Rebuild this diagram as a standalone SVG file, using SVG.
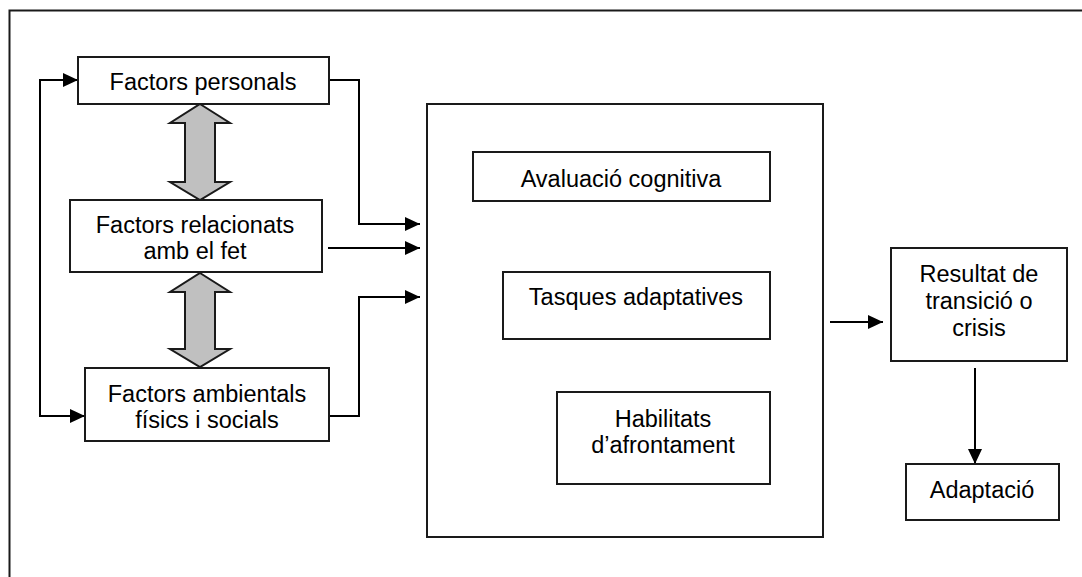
<svg xmlns="http://www.w3.org/2000/svg" width="1082" height="577" viewBox="0 0 1082 577">
  <style>
    .box { fill: #ffffff; stroke: #1a1a1a; stroke-width: 2; }
    .frame { fill: none; stroke: #1a1a1a; stroke-width: 2; }
    .lbl { font-family: "Liberation Sans", Arial, sans-serif; font-size: 23.5px; fill: #000000; text-anchor: middle; }
    .wire { fill: none; stroke: #000000; stroke-width: 2; }
    .twin { fill: #c0c0c0; stroke: #1a1a1a; stroke-width: 2; stroke-linejoin: miter; }
  </style>
  <defs>
    <marker id="head" viewBox="0 0 15 14" refX="15" refY="7" markerWidth="15" markerHeight="14" markerUnits="userSpaceOnUse" orient="auto">
      <path d="M0,0 L15,7 L0,14 Z" fill="#000000"/>
    </marker>
  </defs>

  <rect width="1082" height="577" fill="#ffffff"/>

  <!-- page frame (open on the right and bottom) -->
  <path class="frame" d="M9.5,577 V10.5 H1082"/>

  <!-- connectors -->
  <g id="connectors">
    <!-- feedback loop on the left -->
    <path class="wire" d="M78,80 H40 V416 H85" marker-end="url(#head)"/>
    <path class="wire" d="M40,80 H78" marker-end="url(#head)"/>
    <!-- factors into the central panel -->
    <path class="wire" d="M329,80 H359 V224 H420" marker-end="url(#head)"/>
    <path class="wire" d="M328,248 H420" marker-end="url(#head)"/>
    <path class="wire" d="M329,416 H359 V297 H420" marker-end="url(#head)"/>
    <!-- appraisal to coping -->
    <path class="wire" d="M473,176 H450 V440 H557" marker-end="url(#head)"/>
    <!-- panel to outcome -->
    <path class="wire" d="M830,322 H883" marker-end="url(#head)"/>
    <!-- outcome to adaptation -->
    <path class="wire" d="M975,368 V464" marker-end="url(#head)"/>
  </g>

  <!-- two-way block arrows between the factor boxes -->
  <g id="link-personal-event">
    <path class="twin" d="M200,104 L230,123 L215,123 L215,182 L230,182 L200,200 L170,182 L185,182 L185,123 L170,123 Z"/>
  </g>
  <g id="link-event-environment">
    <path class="twin" d="M200,273 L230,292 L215,292 L215,349 L230,349 L200,367 L170,349 L185,349 L185,292 L170,292 Z"/>
  </g>

  <g id="node-personals">
    <rect class="box" x="78" y="57" width="251" height="47"/>
    <text class="lbl" x="203" y="90">Factors personals</text>
  </g>

  <g id="node-relacionats">
    <rect class="box" x="70" y="200" width="252" height="72"/>
    <text class="lbl" x="195" y="233">Factors relacionats</text>
    <text class="lbl" x="195" y="259">amb el fet</text>
  </g>

  <g id="node-ambientals">
    <rect class="box" x="85" y="368" width="244" height="73"/>
    <text class="lbl" x="207" y="402">Factors ambientals</text>
    <text class="lbl" x="207" y="428">físics i socials</text>
  </g>

  <g id="node-panel">
    <rect class="box" x="427" y="104" width="396" height="433"/>
  </g>

  <g id="node-avaluacio">
    <rect class="box" x="473" y="152" width="297" height="49"/>
    <text class="lbl" x="621" y="187">Avaluació cognitiva</text>
  </g>

  <g id="node-tasques">
    <rect class="box" x="503" y="272" width="267" height="67"/>
    <text class="lbl" x="636" y="305">Tasques adaptatives</text>
  </g>

  <g id="node-habilitats">
    <rect class="box" x="557" y="392" width="213" height="92"/>
    <text class="lbl" x="663" y="427">Habilitats</text>
    <text class="lbl" x="663" y="453">d’afrontament</text>
  </g>

  <g id="node-resultat">
    <rect class="box" x="891" y="248" width="176" height="113"/>
    <text class="lbl" x="979" y="282">Resultat de</text>
    <text class="lbl" x="979" y="309">transició o</text>
    <text class="lbl" x="979" y="336">crisis</text>
  </g>

  <g id="node-adaptacio">
    <rect class="box" x="906" y="464" width="153" height="56"/>
    <text class="lbl" x="982" y="498">Adaptació</text>
  </g>
</svg>
